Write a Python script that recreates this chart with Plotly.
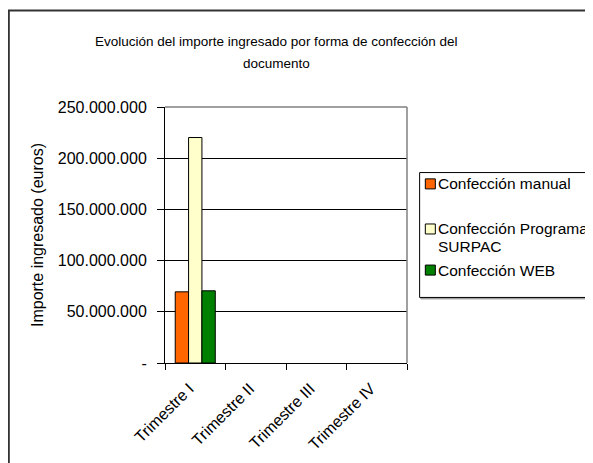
import plotly.graph_objects as go

# datos
trimestres = ['Trimestre I', 'Trimestre II', 'Trimestre III', 'Trimestre IV']
manual = [69500000, None, None, None]
surpac = [220200000, None, None, None]
web = [70500000, None, None, None]

series = ['Confección manual', 'Confección Programa<br>SURPAC', 'Confección WEB']
colores = ['#FF6600', '#FFFFCC', '#008000']

y_vals = [0, 50000000, 100000000, 150000000, 200000000, 250000000]
y_text = ['-', '50.000.000', '100.000.000', '150.000.000', '200.000.000', '250.000.000']

W, H = 593, 463
L, R, T, B = 157, 398.7, 99.3, 354.7

def px(x):
    return (x - L) / (R - L)

def py(y):
    return (B - y) / (B - T)

fig = go.Figure()
for nombre, vals, col in zip(series, [manual, surpac, web], colores):
    fig.add_trace(go.Bar(x=trimestres, y=vals, name=nombre, showlegend=False,
                         marker=dict(color=col, line=dict(color='black', width=1))))

fig.update_layout(
    width=W, height=H,
    margin=dict(l=L, r=W - R, t=T, b=H - B, autoexpand=False),
    paper_bgcolor='white', plot_bgcolor='white',
    font=dict(family='Liberation Sans, Arial', size=16, color='black'),
    barmode='group', bargap=0.338, bargroupgap=0,
)

fig.update_xaxes(type='category', tickson='boundaries', ticks='outside', ticklen=6,
                 tickcolor='black', showline=True, linecolor='black', linewidth=1,
                 tickangle=-45, showgrid=False, range=[-0.5, 3.5],
                 ticklabelshift=-6, ticklabelstandoff=9)
fig.update_yaxes(range=[0, 250000000], tickvals=y_vals, ticktext=y_text,
                 ticks='outside', ticklen=7, tickcolor='black', ticklabelstandoff=7,
                 showline=True, linecolor='black', linewidth=1,
                 showgrid=True, gridcolor='black', gridwidth=1, zeroline=False,
                 title=dict(text='Importe ingresado (euros)', standoff=10, font=dict(size=16)))

# marco del area de trazado (gris arriba y a la derecha)
fig.add_shape(type='line', xref='paper', yref='paper', x0=0, x1=1, y0=1, y1=1,
              line=dict(color='#808080', width=1.5), layer='above')
fig.add_shape(type='line', xref='paper', yref='paper', x0=1, x1=1, y0=0, y1=1,
              line=dict(color='#808080', width=1.5), layer='above')

# borde exterior del grafico
fig.add_shape(type='rect', xref='paper', yref='paper',
              x0=px(1), x1=px(700), y0=py(3), y1=py(700),
              line=dict(color='#333333', width=2), layer='below')

# titulo
fig.add_annotation(text='Evolución del importe ingresado por forma de confección del',
                   xref='paper', yref='paper', x=px(268), y=py(34), yanchor='middle',
                   showarrow=False, font=dict(size=13.5))
fig.add_annotation(text='documento',
                   xref='paper', yref='paper', x=px(268), y=py(56), yanchor='middle',
                   showarrow=False, font=dict(size=13.5))

# leyenda
fig.add_shape(type='rect', xref='paper', yref='paper',
              x0=px(412.5), x1=px(700), y0=py(166), y1=py(290.8),
              line=dict(color='#A0A0A0', width=1), fillcolor='#A0A0A0', layer='above')
fig.add_shape(type='rect', xref='paper', yref='paper',
              x0=px(411.3), x1=px(700), y0=py(164.7), y1=py(289.3),
              line=dict(color='black', width=1), fillcolor='white', layer='above')
filas = [[176], [221, 238], [262]]
for nombre, col, ys in zip(series, colores, filas):
    yc = ys[0]
    fig.add_shape(type='rect', xref='paper', yref='paper',
                  x0=px(417), x1=px(427), y0=py(yc - 5), y1=py(yc + 5),
                  line=dict(color='black', width=1), fillcolor=col, layer='above')
    for linea, yl in zip(nombre.split('<br>'), ys):
        fig.add_annotation(text=linea, xref='paper', yref='paper', x=px(427.5), y=py(yl),
                           xanchor='left', yanchor='middle', showarrow=False,
                           font=dict(size=15.5))

fig.write_html('out.html')
